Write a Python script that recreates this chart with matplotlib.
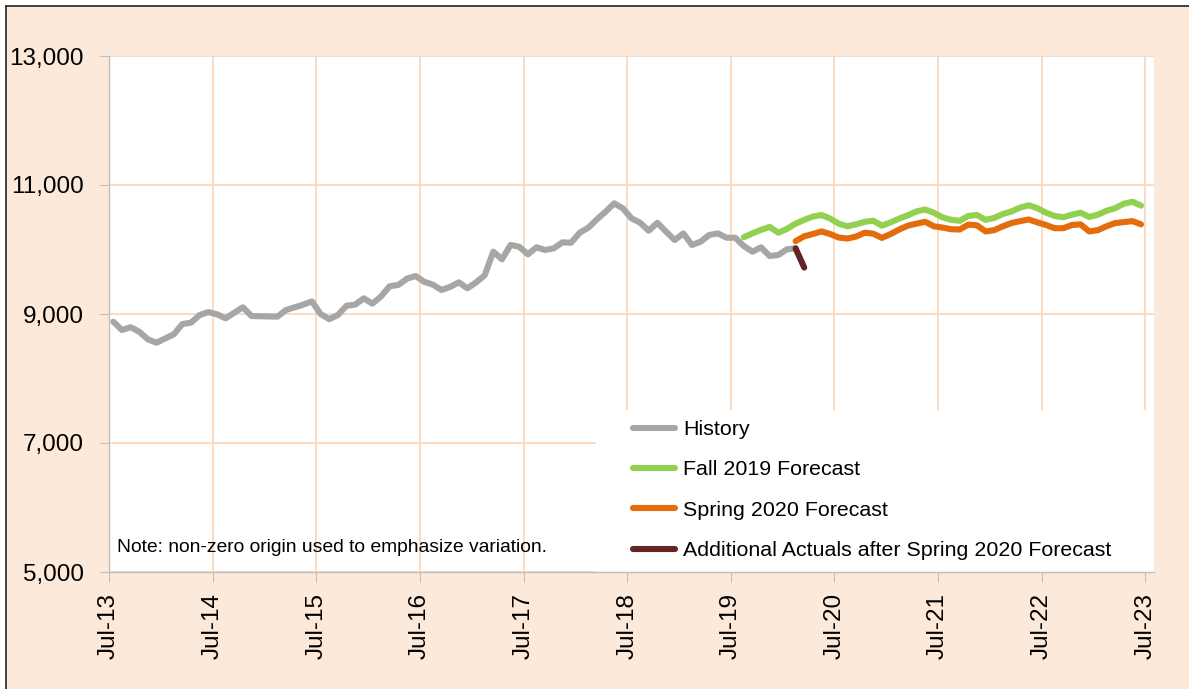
import numpy as np
import matplotlib
matplotlib.use("Agg")
import matplotlib.pyplot as plt
from matplotlib.patches import Rectangle
from matplotlib.lines import Line2D
from matplotlib.ticker import StrMethodFormatter

plt.rcParams['font.family'] = ['Liberation Sans', 'DejaVu Sans']

# ---- data (monthly, index 0 = Jul-2013) ----
tick_labels = ["Jul-13", "Jul-14", "Jul-15", "Jul-16", "Jul-17", "Jul-18",
               "Jul-19", "Jul-20", "Jul-21", "Jul-22", "Jul-23"]

history_start = 0
history = [8880, 8752, 8795, 8726, 8607, 8555, 8620, 8685, 8845, 8866,
           8984, 9030, 8995, 8933, 9020, 9104, 8969, 8965, 8962, 8959,
           9062, 9104, 9145, 9195, 9000, 8920, 8984, 9127, 9145, 9243,
           9160, 9274, 9430, 9450, 9548, 9589, 9500, 9455, 9372, 9420,
           9491, 9398, 9490, 9600, 9966, 9848, 10070, 10043, 9925, 10034,
           9992, 10018, 10111, 10105, 10260, 10338, 10468, 10586, 10716, 10638,
           10483, 10415, 10291, 10415, 10276, 10147, 10250, 10070, 10121, 10225,
           10250, 10183, 10183, 10054, 9966, 10034, 9899, 9915, 10003, 10018]

fall2019_start = 73
fall2019 = [10190, 10250, 10305, 10350, 10260, 10320, 10400, 10460, 10510, 10535,
            10480, 10400, 10360, 10390, 10430, 10445, 10370, 10420, 10480, 10530,
            10590, 10620, 10570, 10500, 10460, 10445, 10520, 10535, 10460, 10490,
            10550, 10590, 10650, 10685, 10640, 10570, 10520, 10500, 10540, 10570,
            10505, 10540, 10600, 10640, 10710, 10740, 10680]

spring2020_start = 79
spring2020 = [10130, 10205, 10240, 10280, 10240, 10185, 10170, 10200, 10260, 10245,
              10180, 10240, 10310, 10370, 10400, 10430, 10360, 10340, 10315, 10310,
              10385, 10375, 10280, 10300, 10360, 10410, 10440, 10465, 10420, 10380,
              10330, 10330, 10380, 10390, 10280, 10300, 10360, 10410, 10425, 10440,
              10390]

actuals_start = 79
actuals = [10018, 9720]

series_names = ["History", "Fall 2019 Forecast", "Spring 2020 Forecast",
                "Additional Actuals after Spring 2020 Forecast"]
series_colors = ["#A6A6A6", "#92D050", "#E46C0A", "#632523"]

note_text = "Note: non-zero origin used to emphasize variation."

# ---- figure ----
W, H = 1189, 689
fig = plt.figure(figsize=(W / 100, H / 100), dpi=100)
fig.patch.set_facecolor("white")
peach = "#FDE9D9"
fig.patches.append(Rectangle((6 / W, 0), 1 - 6 / W, 1 - 6 / H, transform=fig.transFigure,
                             facecolor=peach, edgecolor="none", zorder=-10))
fig.lines.append(Line2D([5.5 / W, 1], [1 - 5.5 / H, 1 - 5.5 / H], transform=fig.transFigure,
                        color="#222222", lw=1.2, zorder=-5))
fig.lines.append(Line2D([5.5 / W, 5.5 / W], [0, 1 - 5.5 / H], transform=fig.transFigure,
                        color="#222222", lw=1.2, zorder=-5))

ax = fig.add_axes([109 / W, (H - 572) / H, (1154 - 109) / W, (572 - 56) / H])
ax.set_facecolor("white")

grid_color = "#FCD5B5"
ax.set_axisbelow(True)
ax.grid(True, color=grid_color, lw=1.2)

lw = 4.4
def draw(start, vals, color, label):
    x = np.arange(len(vals)) + start + 0.5
    ax.plot(x, vals, color=color, lw=lw, label=label, solid_capstyle="round",
            solid_joinstyle="round", zorder=3)

draw(history_start, history, series_colors[0], series_names[0])
draw(fall2019_start, fall2019, series_colors[1], series_names[1])
draw(spring2020_start, spring2020, series_colors[2], series_names[2])
draw(actuals_start, actuals, series_colors[3], series_names[3])

ax.set_xlim(0, 121)
ax.set_ylim(5000, 13000)
ax.set_xticks(np.arange(len(tick_labels)) * 12)
ax.set_xticklabels(tick_labels, rotation=90, fontsize=17.5)
ax.set_yticks(np.arange(5000, 13001, 2000))
ax.yaxis.set_major_formatter(StrMethodFormatter("{x:,.0f}"))
ax.tick_params(axis="y", labelsize=17.5, length=7, color="#BFBFBF", pad=11)
ax.tick_params(axis="x", length=7, color="#BFBFBF", pad=8)

for s in ["top", "right"]:
    ax.spines[s].set_visible(False)
for s in ["left", "bottom"]:
    ax.spines[s].set_color("#BFBFBF")
    ax.spines[s].set_linewidth(1.0)
    ax.spines[s].set_zorder(5)

# legend box
ax.add_patch(Rectangle(((596 - 109) / 1045, 0), 1 - (596 - 109) / 1045, (572 - 410) / 516,
                       transform=ax.transAxes, facecolor="white", edgecolor="none", zorder=2))
leg = ax.legend(loc="upper left", bbox_to_anchor=((633 - 109) / 1045, (572 - 420) / 516),
                frameon=False, fontsize=15.4, borderpad=0, borderaxespad=0,
                handlelength=1.96, handletextpad=0.37, labelspacing=1.0)
leg.set_zorder(6)

ax.text((117 - 109) / 1045, (572 - 548) / 516, note_text, transform=ax.transAxes,
        fontsize=13.9, va="center", ha="left", zorder=6)

fig.savefig("out.png", dpi=100, facecolor=fig.get_facecolor())
